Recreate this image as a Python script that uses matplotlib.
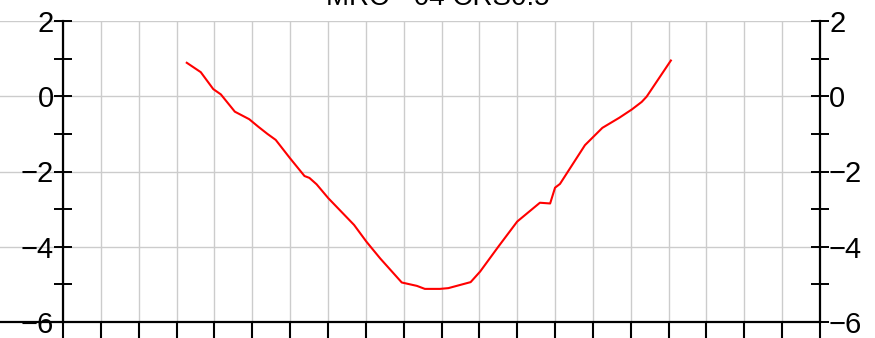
import matplotlib
matplotlib.use("Agg")
import matplotlib.pyplot as plt
import numpy as np

plt.rcParams['font.family'] = ['Liberation Sans', 'DejaVu Sans']

TITLE = "MRC - 04 CRS0.5"

# curve samples
x_vals = [3.27, 3.64, 3.97, 4.17, 4.54, 4.92, 5.16, 5.40, 5.62, 6.00,
          6.38, 6.51, 6.70, 7.01, 7.69, 8.02, 8.38, 8.95, 9.35, 9.56,
          9.96, 10.18, 10.77, 11.02, 11.50, 12.00, 12.60, 12.87, 13.00, 13.13,
          13.79, 14.25, 14.70, 15.03, 15.29, 15.42, 16.06]
y_vals = [0.89, 0.64, 0.19, 0.05, -0.41, -0.61, -0.81, -1.00, -1.16, -1.65,
          -2.12, -2.17, -2.34, -2.71, -3.42, -3.87, -4.31, -4.95, -5.04, -5.12,
          -5.12, -5.10, -4.94, -4.66, -4.00, -3.33, -2.83, -2.85, -2.43, -2.33,
          -1.30, -0.84, -0.57, -0.35, -0.15, -0.01, 0.95]

x_grid = np.arange(0, 21)
y_major = [-6, -4, -2, 0, 2]
y_minor = [-5, -3, -1, 1]

W, H = 875, 338
fig = plt.figure(figsize=(W / 100, H / 100), dpi=100)
ax = fig.add_axes([0, 16 / H, 820 / W, 301 / H])

px_per_unit = (820 - 63) / 20
ax.set_xlim(-63 / px_per_unit, 20)
ax.set_ylim(-6, 2)

ax.plot(x_vals, y_vals, color='red', lw=1.5, zorder=3)

ax.set_xticks(x_grid)
ax.set_xticklabels([])
ax.set_yticks(y_major)
ax.set_yticks(y_minor, minor=True)

ax.grid(True, which='major', color='#cccccc', lw=1, zorder=0)
for gl in ax.get_ygridlines():
    if gl.get_ydata()[0] == 2:
        gl.set_visible(False)

ax.spines['top'].set_visible(False)
ax.spines['left'].set_position(('data', 0))
for s in ['left', 'right', 'bottom']:
    ax.spines[s].set_linewidth(1.6)
    ax.spines[s].set_zorder(4)

ax.tick_params(axis='x', direction='out', length=16, width=1.5, color='black')
ax.tick_params(axis='y', which='both', direction='inout', length=13, width=1.4,
               left=True, right=True, labelleft=True, labelright=True,
               pad=0, labelsize=21)

fig.text(0.5, 1 - 5 / H, TITLE, ha='center', va='baseline', fontsize=20)

fig.savefig("out.png", dpi=100)
